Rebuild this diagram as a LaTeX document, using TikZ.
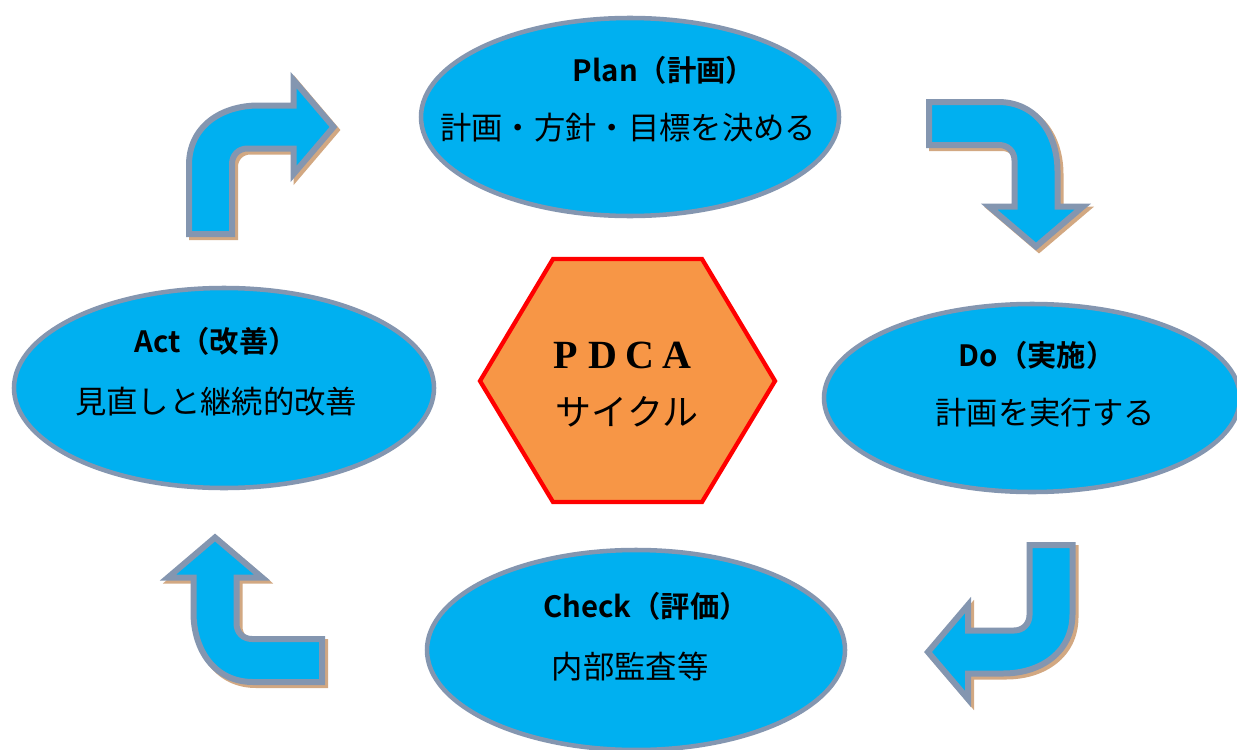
\documentclass[tikz,border=0pt]{standalone}
\usepackage{fontspec}
\newfontfamily\jp{Noto Sans CJK JP}
\newfontfamily\jpb{Noto Sans CJK JP Bold}
\newfontfamily\serifl{Liberation Serif}
\definecolor{cyanfill}{HTML}{00B0F0}
\definecolor{grayline}{HTML}{8496B0}
\definecolor{tanshadow}{HTML}{D2A882}
\definecolor{hexfill}{HTML}{F79646}
\definecolor{hexline}{HTML}{FF0000}
\tikzset{
  ell/.style={ellipse, draw=grayline, line width=3.4pt, fill=cyanfill},
  ttl/.style={font=\jpb\fontsize{22}{26}\selectfont, inner sep=0pt},
  bdy/.style={font=\jp\fontsize{23.5}{28}\selectfont, inner sep=0pt},
  arrowbody/.style={draw=grayline, line width=4.5pt, fill=cyanfill, line join=miter},
  arrowshadow/.style={draw=tanshadow, line width=4.5pt, fill=tanshadow, line join=miter},
}
\usetikzlibrary{shapes.geometric}
\newcommand{\bentarrowpath}{%
  (-21.5,107) -- (-21.5,38) .. controls (-21.5,0) and (10,-21.5) .. (48,-21.5)
  -- (83,-21.5) -- (83,-47) -- (123,0) -- (83,47) -- (83,21.5) -- (37,21.5)
  .. controls (28,21.5) and (21.5,28) .. (21.5,37) -- (21.5,107) -- cycle}
\begin{document}
\begin{tikzpicture}[x=0.75pt,y=-0.75pt]
\useasboundingbox (0,0) rectangle (1237,749);
\clip (0,0) rectangle (1237,749);
\fill[white] (0,0) rectangle (1237,749);
% bent arrows: (cx,cy,rotation)
\foreach \cx/\cy/\r [count=\i] in {210.5/127/0, 1036/123.5/-90, 1051/652/180, 215/660.5/90}{
  \begin{scope}[shift={(\cx+3,\cy+3)}, rotate=\r]
    \path[arrowshadow] \bentarrowpath;
  \end{scope}
  \begin{scope}[shift={(\cx,\cy)}, rotate=\r]
    \path[arrowbody] \bentarrowpath;
    \coordinate (arr\i) at (0,0);
  \end{scope}
}
% ellipses
\node[ell, minimum width=418pt*0.75, minimum height=198pt*0.75] (plan) at (630,117) {};
\node[ell, minimum width=416pt*0.75, minimum height=188pt*0.75] (do) at (1032,398) {};
\node[ell, minimum width=418pt*0.75, minimum height=200pt*0.75] (check) at (636,650) {};
\node[ell, minimum width=420pt*0.75, minimum height=200pt*0.75] (act) at (224,388) {};
% texts
\node[ttl] (plant) at (664,70) {Plan（計画）};
\node[bdy] (planb) at (628,128) {計画・方針・目標を決める};
\node[ttl] (dot) at (1037,355) {Do（実施）};
\node[bdy] (dob) at (1045,413) {計画を実行する};
\node[ttl] (checkt) at (646,606) {Check（評価）};
\node[bdy] (checkb) at (630,667) {内部監査等};
\node[ttl] (actt) at (216,341) {Act（改善）};
\node[bdy] (actb) at (216,402) {見直しと継続的改善};
% hexagon
\draw[draw=hexline, line width=3.2pt, fill=hexfill, line join=miter]
  (553,259) coordinate (h1) -- (702,259) coordinate (h2) -- (775,381) coordinate (h3)
  -- (702,502) coordinate (h4) -- (553,502) coordinate (h5) -- (480,381) coordinate (h6) -- cycle;
\node[inner sep=0pt, font=\serifl\bfseries\fontsize{30}{34}\selectfont] (pdca) at (621,355)
  {\makebox[27.75pt]{P}\makebox[27.75pt]{D}\makebox[27.75pt]{C}\makebox[27.75pt]{A}};
\node[inner sep=0pt, font=\jp\fontsize{27}{32}\selectfont] (cycle) at (627,412) {サイクル};
\end{tikzpicture}
\end{document}
